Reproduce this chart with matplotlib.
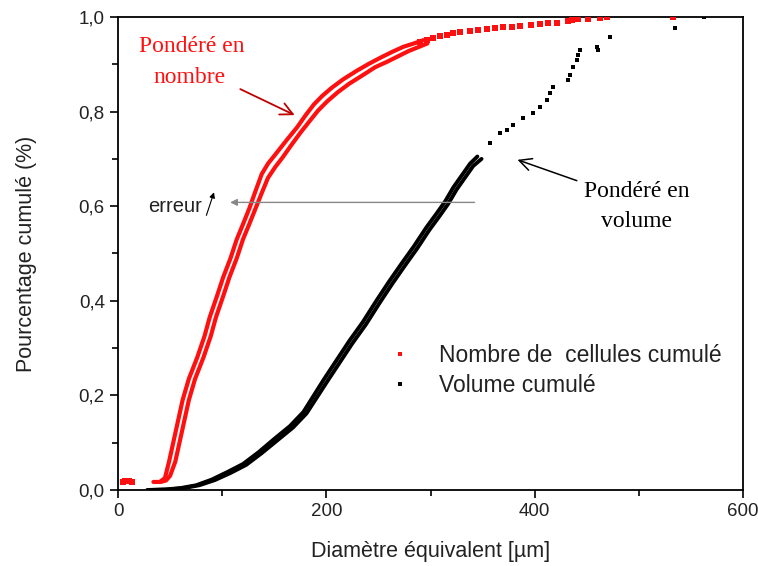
import numpy as np
import matplotlib
matplotlib.use('Agg')
import matplotlib.pyplot as plt

plt.rcParams['font.family'] = ['Liberation Sans', 'DejaVu Sans']

# cumulative number, two runs (dense part)
red_a_x = [34, 40, 45, 49, 53, 58, 62, 68, 76, 83, 88, 95, 101, 108, 114, 120, 126, 132, 138, 144,
           152, 162, 172, 180, 188, 196, 205, 216, 229, 240, 252, 263, 274, 284, 293]
red_a_y = [0.017, 0.017, 0.025, 0.06, 0.10, 0.15, 0.19, 0.235, 0.28, 0.325, 0.365, 0.41, 0.45, 0.49,
           0.53, 0.562, 0.595, 0.632, 0.668, 0.69, 0.712, 0.74, 0.767, 0.792, 0.815, 0.833, 0.850,
           0.868, 0.886, 0.900, 0.914, 0.926, 0.937, 0.944, 0.951]
red_b_x = [41, 46, 50, 55, 59, 64, 68, 74, 82, 89, 94, 101, 107, 114, 120, 126, 132, 138, 144, 151,
           158, 166, 175, 184, 192, 201, 211, 222, 235, 247, 258, 269, 279, 288, 297]
red_b_y = [0.017, 0.020, 0.03, 0.06, 0.10, 0.15, 0.19, 0.235, 0.28, 0.325, 0.365, 0.41, 0.45, 0.49,
           0.53, 0.562, 0.595, 0.628, 0.660, 0.683, 0.703, 0.728, 0.755, 0.780, 0.802, 0.822, 0.841,
           0.859, 0.877, 0.894, 0.905, 0.917, 0.928, 0.936, 0.944]
# sparse red dots
red_dots_x = [5, 7, 9, 11, 13, 290, 297, 302, 309, 316, 322, 328, 338, 346, 354, 362, 370, 378, 386,
              396, 405, 413, 421, 432, 436, 442, 451, 463, 469, 533]
red_dots_y = [0.016, 0.02, 0.018, 0.02, 0.016, 0.947, 0.951, 0.956, 0.960, 0.962, 0.966, 0.968, 0.970,
              0.972, 0.975, 0.977, 0.979, 0.979, 0.981, 0.983, 0.985, 0.987, 0.987, 0.992, 0.994,
              0.996, 0.996, 0.998, 1.0, 1.0]

# cumulative volume, two runs (dense part)
blk_a_x = [28, 45, 60, 75, 90, 105, 120, 135, 150, 165, 178, 188, 198, 210, 222, 235, 248, 260, 272,
           284, 296, 306, 314, 322, 330, 338, 345]
blk_a_y = [0.0, 0.001, 0.004, 0.010, 0.022, 0.038, 0.055, 0.080, 0.108, 0.135, 0.165, 0.200, 0.235,
           0.275, 0.315, 0.355, 0.400, 0.440, 0.478, 0.515, 0.555, 0.585, 0.610, 0.640, 0.665, 0.690,
           0.705]
blk_b_x = [31, 48, 63, 78, 93, 108, 123, 138, 153, 168, 181, 191, 201, 213, 225, 238, 251, 263, 275,
           287, 299, 309, 317, 325, 333, 341, 349]
blk_b_y = [0.0, 0.001, 0.004, 0.010, 0.021, 0.036, 0.053, 0.078, 0.105, 0.132, 0.162, 0.196, 0.230,
           0.270, 0.310, 0.350, 0.395, 0.435, 0.473, 0.510, 0.550, 0.580, 0.605, 0.635, 0.660, 0.685,
           0.700]
# sparse black dots
blk_dots_x = [357, 367, 373, 379, 389, 398, 405, 412, 415, 418, 432, 434, 437, 441, 442, 444, 460,
              461, 472, 535, 563]
blk_dots_y = [0.734, 0.755, 0.761, 0.772, 0.786, 0.797, 0.810, 0.824, 0.839, 0.852, 0.867, 0.877,
              0.894, 0.909, 0.920, 0.930, 0.937, 0.930, 0.958, 0.977, 1.0]

fig = plt.figure(figsize=(7.58, 5.66), dpi=100)
ax = fig.add_axes([0.1557, 0.1343, 0.8245, 0.8357])

for xs, ys in [(red_a_x, red_a_y), (red_b_x, red_b_y)]:
    ax.plot(xs, ys, color='#ff1010', lw=3, solid_capstyle='round', zorder=3)
ax.plot(red_dots_x, red_dots_y, 's', color='#ff1010', ms=3.8, mew=0, zorder=3)

for xs, ys in [(blk_a_x, blk_a_y), (blk_b_x, blk_b_y)]:
    ax.plot(xs, ys, color='black', lw=2.8, solid_capstyle='round', zorder=3)
ax.plot(blk_dots_x, blk_dots_y, 's', color='black', ms=3, mew=0, zorder=3)

# legend handles
h1, = ax.plot([], [], 's', color='#ff1010', ms=2.5, mew=0, label='Nombre de  cellules cumulé')
h2, = ax.plot([], [], 's', color='black', ms=2.5, mew=0, label='Volume cumulé')
leg = ax.legend(handles=[h1, h2], loc='upper left', bbox_to_anchor=(0.415, 0.332), frameon=False,
                fontsize=16.5, handlelength=1.0, handletextpad=1.2, labelspacing=0.3, borderpad=0)
for t in leg.get_texts():
    t.set_color('#222222')

ax.set_xlim(0, 600)
ax.set_ylim(0, 1.0)
ax.set_xticks([0, 200, 400, 600])
ax.set_xticks([100, 300, 500], minor=True)
ax.set_yticks([0, 0.2, 0.4, 0.6, 0.8, 1.0])
ax.set_yticks([0.1, 0.3, 0.5, 0.7, 0.9], minor=True)
ax.set_yticklabels(['0,0', '0,2', '0,4', '0,6', '0,8', '1,0'])
ax.tick_params(which='major', direction='out', length=6, width=1.2, labelsize=13.5, labelcolor='#222222')
ax.tick_params(which='minor', direction='out', length=4, width=1.2)
for s in ax.spines.values():
    s.set_linewidth(1.3)

ax.set_xlabel('Diamètre équivalent [µm]', fontsize=15.5, color='#222222', labelpad=15)
ax.set_ylabel('Pourcentage cumulé (%)', fontsize=15.5, color='#222222', labelpad=30)

# annotations
serif = 'Liberation Serif'
ax.text(71, 0.937, 'Pondéré en', color='#ff1010', fontsize=17, family=serif, ha='center', va='center')
ax.text(69, 0.873, 'nombre', color='#ff1010', fontsize=17, family=serif, ha='center', va='center')
ax.annotate('', xy=(172, 0.79), xytext=(115, 0.85),
            arrowprops=dict(arrowstyle='->', color='#c00000', lw=1.3, mutation_scale=22))

ax.text(498, 0.632, 'Pondéré en', color='black', fontsize=17, family=serif, ha='center', va='center')
ax.text(498, 0.568, 'volume', color='black', fontsize=17, family=serif, ha='center', va='center')
ax.annotate('', xy=(381, 0.700), xytext=(443, 0.652),
            arrowprops=dict(arrowstyle='->', color='black', lw=1.1, mutation_scale=22))

ax.annotate('', xy=(105, 0.608), xytext=(345, 0.608),
            arrowprops=dict(arrowstyle='-|>', color='#888888', lw=1.0, mutation_scale=10))
ax.text(29, 0.6, 'erreur', color='#222222', fontsize=14.5, ha='left', va='center')
ax.annotate('', xy=(93, 0.635), xytext=(84, 0.575),
            arrowprops=dict(arrowstyle='-|>', color='black', lw=0.8, mutation_scale=8))

plt.savefig('out.png', dpi=100)
plt.close()
